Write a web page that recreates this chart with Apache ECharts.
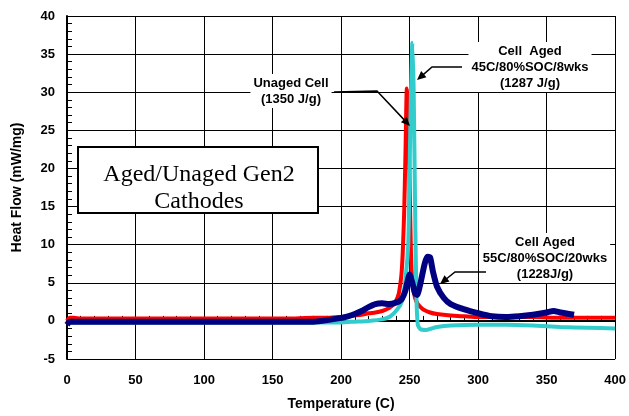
<!DOCTYPE html>
<html>
<head>
<meta charset="utf-8">
<script src="https://cdn.jsdelivr.net/npm/echarts@6/dist/echarts.min.js"></script>
<style>
  html, body { margin: 0; padding: 0; background: #fff; }
  #chart { width: 629px; height: 416px; }
</style>
</head>
<body>
<div id="chart"></div>
<script>
// unaged cell
var unagedTemp = [0, 2, 5, 10, 20, 40, 60, 80, 100, 120, 140, 160, 180, 190, 200, 205, 210, 215, 220, 225, 230, 235, 238, 240, 242, 244, 245, 246, 247, 248, 249, 250, 251, 252, 254, 256, 258, 260, 265, 270, 280, 290, 300, 320, 340, 360, 380, 400]
var unagedFlow = [0, 0.4, 0.4, 0.3, 0.3, 0.3, 0.3, 0.3, 0.3, 0.3, 0.3, 0.3, 0.4, 0.4, 0.5, 0.6, 0.7, 0.8, 1.0, 1.1, 1.3, 1.7, 2.1, 2.6, 3.5, 6, 9, 14, 22, 30.5, 28, 18, 9, 5, 3, 2.2, 1.8, 1.5, 1.1, 0.9, 0.7, 0.6, 0.5, 0.5, 0.5, 0.4, 0.4, 0.4]

// cell aged 45C/80%SOC/8wks
var aged8Temp = [0, 20, 50, 100, 150, 200, 210, 220, 230, 235, 238, 240, 243, 245, 247, 249, 250, 251, 252, 253, 254, 255, 256, 258, 262, 266, 270, 280, 300, 320, 340, 360, 380, 400]
var aged8Flow = [-0.2, -0.2, -0.2, -0.2, -0.2, -0.2, -0.1, 0, 0.2, 0.5, 0.9, 1.3, 2, 3, 5.5, 10, 20, 30, 36.5, 30, 15, 3, -0.5, -1.1, -1.2, -1.0, -0.8, -0.6, -0.5, -0.5, -0.6, -0.8, -0.9, -1.0]

// cell aged 55C/80%SOC/20wks
var aged20Temp = [0, 2, 5, 20, 50, 100, 150, 180, 190, 200, 205, 210, 215, 220, 225, 230, 235, 240, 244, 247, 250, 252, 254, 255.5, 258, 261, 263, 265, 267, 270, 275, 280, 290, 300, 310, 320, 330, 340, 350, 355, 360, 370]
var aged20Flow = [-0.5, -0.1, -0.1, -0.1, -0.1, -0.1, -0.1, -0.1, 0.1, 0.4, 0.6, 0.9, 1.3, 1.8, 2.2, 2.3, 2.2, 2.4, 2.8, 4, 6.1, 5, 3.6, 3.4, 5, 7.5, 8.4, 8.3, 6.5, 4.5, 3.0, 2.2, 1.5, 1.0, 0.6, 0.5, 0.6, 0.8, 1.1, 1.3, 1.1, 0.8]

var xTicks = [0, 50, 100, 150, 200, 250, 300, 350, 400]
var yTicks = [-5, 0, 5, 10, 15, 20, 25, 30, 35, 40]

function pairs(xs, ys) {
  return xs.map(function (x, i) { return [x, ys[i]] })
}

function arrow(pts, tip) {
  var prev = pts[pts.length - 1]
  var dx = tip[0] - prev[0]
  var dy = tip[1] - prev[1]
  var len = Math.sqrt(dx * dx + dy * dy)
  var ux = dx / len
  var uy = dy / len
  var back = [tip[0] - ux * 9, tip[1] - uy * 9]
  return [
    {
      type: 'polyline',
      z: 100,
      shape: { points: pts.concat([[tip[0] - ux * 6, tip[1] - uy * 6]]) },
      style: { stroke: '#000', lineWidth: 1.5, fill: null }
    },
    {
      type: 'polygon',
      z: 100,
      shape: {
        points: [tip, [back[0] - uy * 4, back[1] + ux * 4], [back[0] + uy * 4, back[1] - ux * 4]]
      },
      style: { fill: '#000' }
    }
  ]
}

function note(text, x, y) {
  return {
    type: 'text',
    z: 100,
    x: x,
    y: y,
    style: {
      text: text,
      font: 'bold 13px "Liberation Sans", Arial, sans-serif',
      fill: '#000',
      align: 'center',
      verticalAlign: 'middle',
      lineHeight: 16,
      backgroundColor: '#fff',
      padding: [1, 3]
    }
  }
}

var chart = echarts.init(document.getElementById('chart'))

var graphics = [
  {
    type: 'rect',
    z: 100,
    shape: { x: 78, y: 147, width: 240, height: 66 },
    style: { fill: '#fff', stroke: '#000', lineWidth: 2 }
  },
  {
    type: 'text',
    z: 101,
    x: 199,
    y: 188,
    style: {
      text: 'Aged/Unaged Gen2\nCathodes',
      font: '24px "Liberation Serif", "Times New Roman", serif',
      fill: '#000',
      align: 'center',
      verticalAlign: 'middle',
      lineHeight: 27
    }
  },
  note('Unaged Cell\n(1350 J/g)', 291, 91),
  note('Cell  Aged\n45C/80%SOC/8wks\n(1287 J/g)', 530, 67),
  note('Cell Aged\n55C/80%SOC/20wks\n(1228J/g)', 545, 258)
]
graphics = graphics.concat(arrow([[334, 92], [377, 91]], [410, 126]))
graphics = graphics.concat(arrow([[462, 67], [432, 67]], [417, 80]))
graphics = graphics.concat(arrow([[486, 272], [455, 272]], [440, 284]))

var lineSeries = function (name, xs, ys, color, width) {
  return {
    name: name,
    type: 'line',
    data: pairs(xs, ys),
    showSymbol: false,
    smooth: 0.2,
    lineStyle: { color: color, width: width },
    itemStyle: { color: color },
    animation: false
  }
}

chart.setOption({
  backgroundColor: '#fff',
  grid: { left: 67, top: 16, width: 549, height: 344 },
  xAxis: {
    type: 'value',
    min: xTicks[0],
    max: xTicks[xTicks.length - 1],
    interval: 50,
    name: 'Temperature (C)',
    nameLocation: 'middle',
    nameGap: 38,
    nameTextStyle: { fontWeight: 'bold', fontSize: 14, color: '#000', fontFamily: 'Liberation Sans' },
    axisLine: { lineStyle: { color: '#000', width: 2 } },
    axisTick: { inside: true, length: 5, lineStyle: { color: '#000' } },
    minorTick: { show: true, splitNumber: 5, length: 5, lineStyle: { color: '#000' } },
    axisLabel: { fontWeight: 'bold', fontSize: 13, color: '#000', margin: 15, fontFamily: 'Liberation Sans' },
    splitLine: { show: true, lineStyle: { color: '#000', width: 1 } }
  },
  yAxis: {
    type: 'value',
    min: yTicks[0],
    max: yTicks[yTicks.length - 1],
    interval: 5,
    name: 'Heat Flow (mW/mg)',
    nameLocation: 'middle',
    nameGap: 43,
    nameTextStyle: { fontWeight: 'bold', fontSize: 14, color: '#000', fontFamily: 'Liberation Sans' },
    axisLine: { show: true, lineStyle: { color: '#000', width: 2 } },
    axisTick: { show: true, inside: true, length: 5, lineStyle: { color: '#000' } },
    minorTick: { show: true, splitNumber: 5, length: 5, lineStyle: { color: '#000' } },
    axisLabel: { fontWeight: 'bold', fontSize: 13, color: '#000', margin: 12, fontFamily: 'Liberation Sans' },
    splitLine: { show: true, lineStyle: { color: '#000', width: 1 } }
  },
  series: [
    lineSeries('Unaged Cell', unagedTemp, unagedFlow, '#ff0000', 4),
    lineSeries('Cell Aged 45C/80%SOC/8wks', aged8Temp, aged8Flow, '#33cccc', 4),
    lineSeries('Cell Aged 55C/80%SOC/20wks', aged20Temp, aged20Flow, '#000080', 6)
  ],
  graphic: graphics
})
</script>
</body>
</html>
